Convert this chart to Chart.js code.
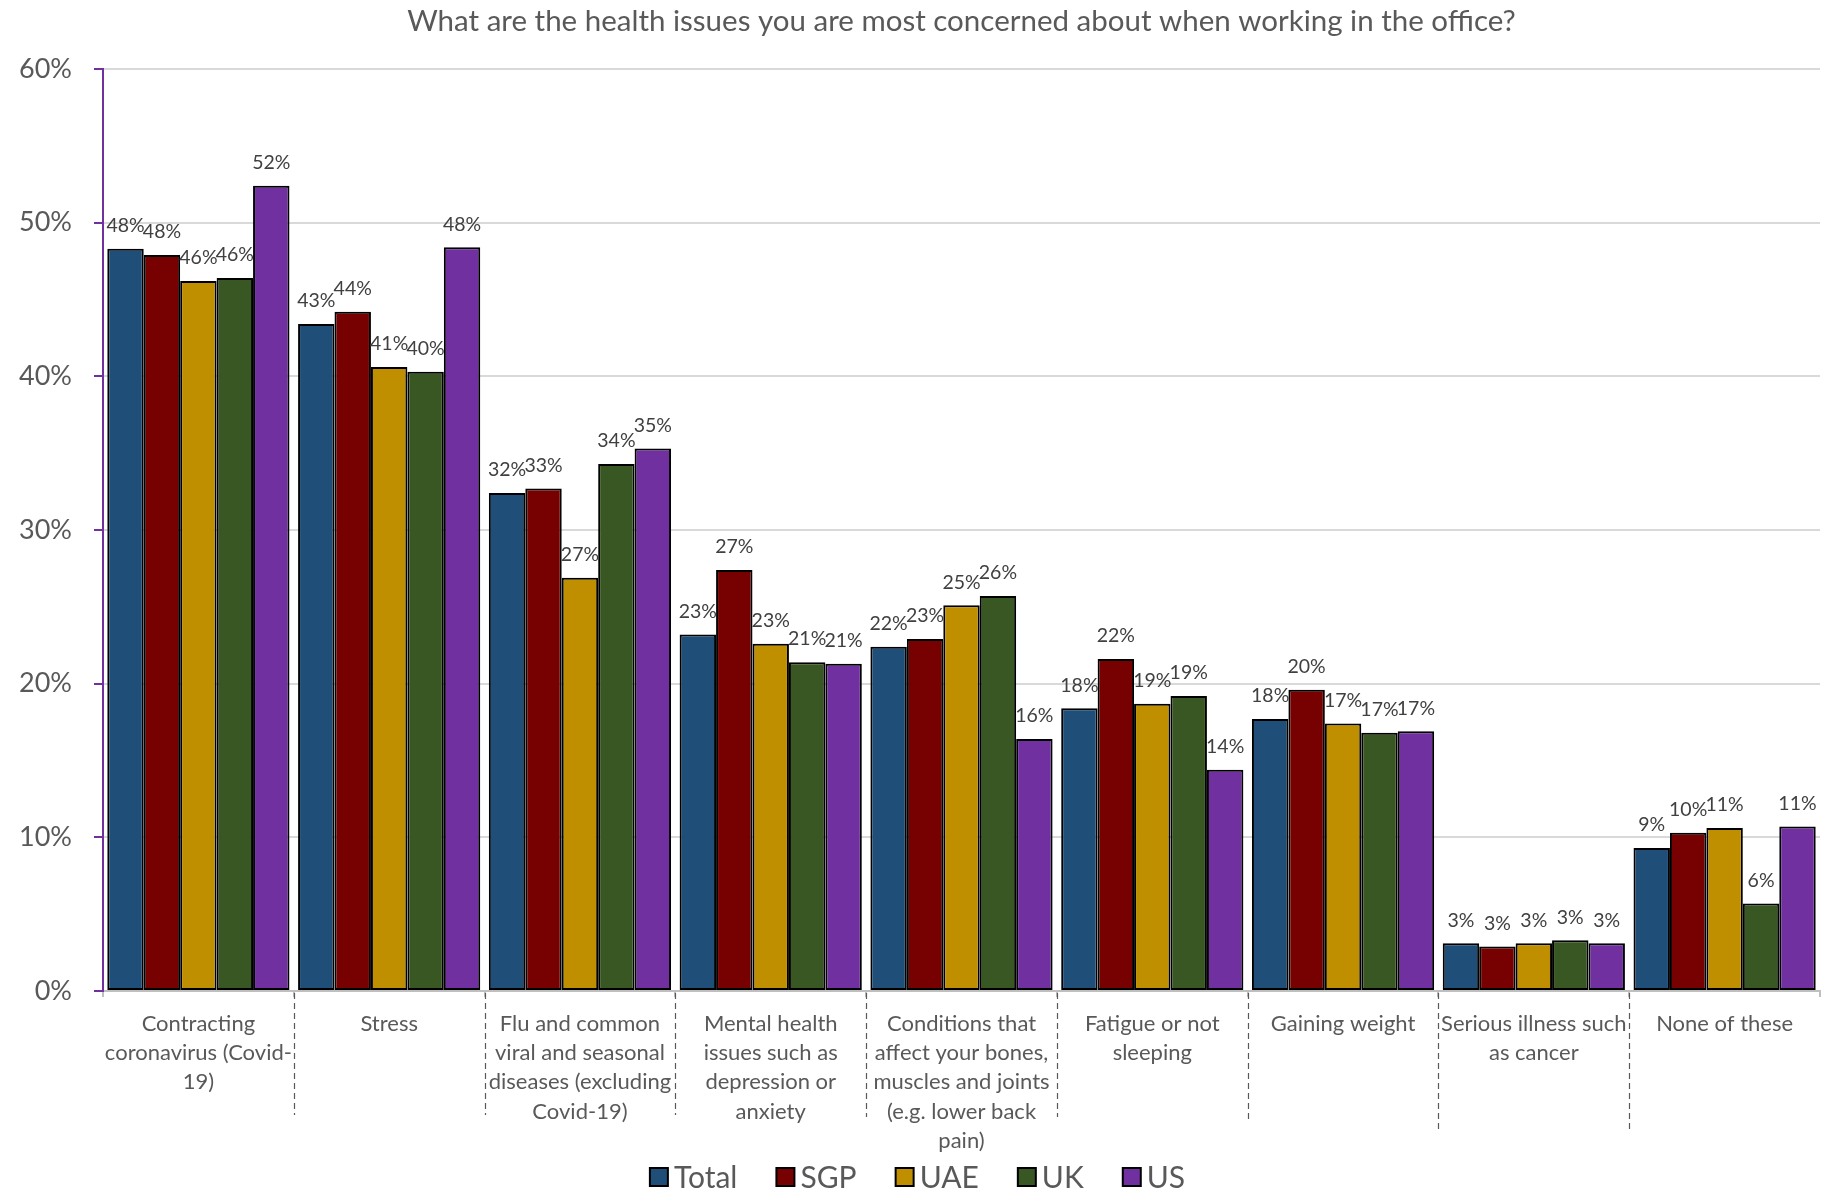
<!DOCTYPE html>
<html>
<head>
<meta charset="utf-8">
<script src="https://cdn.jsdelivr.net/npm/chart.js@4.4.1/dist/chart.umd.min.js"></script>
<style>
  html, body { margin: 0; padding: 0; background: #fff; }
  #wrap { width: 1835px; height: 1193px; }
</style>
</head>
<body>
<div id="wrap"><canvas id="chart" width="1835" height="1193"></canvas></div>
<script>
const title = 'What are the health issues you are most concerned about when working in the office?';

const categories = [
  ['Contracting', 'coronavirus (Covid-', '19)'],
  ['Stress'],
  ['Flu and common', 'viral and seasonal', 'diseases (excluding', 'Covid-19)'],
  ['Mental health', 'issues such as', 'depression or', 'anxiety'],
  ['Conditions that', 'affect your bones,', 'muscles and joints', '(e.g. lower back', 'pain)'],
  ['Fatigue or not', 'sleeping'],
  ['Gaining weight'],
  ['Serious illness such', 'as cancer'],
  ['None of these']
];

const seriesNames = ['Total', 'SGP', 'UAE', 'UK', 'US'];
const totalValues = [48.3, 43.4, 32.4, 23.2, 22.4, 18.4, 17.7, 3.1, 9.3];
const sgpValues   = [47.9, 44.2, 32.7, 27.4, 22.9, 21.6, 19.6, 2.9, 10.3];
const uaeValues   = [46.2, 40.6, 26.9, 22.6, 25.1, 18.7, 17.4, 3.1, 10.6];
const ukValues    = [46.4, 40.3, 34.3, 21.4, 25.7, 19.2, 16.8, 3.3, 5.7];
const usValues    = [52.4, 48.4, 35.3, 21.3, 16.4, 14.4, 16.9, 3.1, 10.7];
const yTicks = [0, 10, 20, 30, 40, 50, 60];

const seriesColors = ['#1F4E79', '#770000', '#BF8F00', '#385723', '#7030A0'];
const allValues = [totalValues, sgpValues, uaeValues, ukValues, usValues];

Chart.defaults.font.family = 'Lato';

// value labels above each bar
const barLabels = {
  id: 'barLabels',
  afterDatasetsDraw(chart) {
    const ctx = chart.ctx;
    ctx.save();
    ctx.font = '19.5px Lato';
    ctx.fillStyle = '#404040';
    ctx.textAlign = 'center';
    ctx.textBaseline = 'middle';
    chart.data.datasets.forEach((ds, i) => {
      chart.getDatasetMeta(i).data.forEach((bar, j) => {
        ctx.fillText(Math.round(ds.data[j]) + '%', bar.x, bar.y - 23);
      });
    });
    ctx.restore();
  }
};

// dashed separators between category labels
const dividerLengths = [124, 124, 124, 126, 126, 130, 139, 139];
const dividers = {
  id: 'dividers',
  afterDraw(chart) {
    const x = chart.scales.x;
    const ctx = chart.ctx;
    const top = chart.chartArea.bottom;
    ctx.save();
    ctx.strokeStyle = '#595959';
    ctx.lineWidth = 1.2;
    ctx.setLineDash([6, 4]);
    for (let i = 1; i < categories.length; i++) {
      const px = Math.round((x.getPixelForValue(i - 1) + x.getPixelForValue(i)) / 2) + 0.5;
      ctx.beginPath();
      ctx.moveTo(px, top + 2);
      ctx.lineTo(px, top + dividerLengths[i - 1]);
      ctx.stroke();
    }
    ctx.restore();
  }
};

// legend row at the bottom, Excel style (small gap between box and text)
const bottomLegend = {
  id: 'bottomLegend',
  afterDraw(chart) {
    const ctx = chart.ctx;
    const box = 18, gap = 6, spacing = 39, cy = 1177;
    ctx.save();
    ctx.font = '30px Lato';
    ctx.textBaseline = 'middle';
    ctx.textAlign = 'left';
    const items = chart.data.datasets.map(ds => ({
      text: ds.label,
      color: ds.backgroundColor,
      w: ctx.measureText(ds.label).width
    }));
    const total = items.reduce((s, it) => s + box + gap + it.w, 0) + spacing * (items.length - 1);
    let x = chart.width / 2 - total / 2;
    items.forEach(it => {
      ctx.fillStyle = it.color;
      ctx.fillRect(x, cy - box / 2, box, box);
      ctx.strokeStyle = '#000';
      ctx.lineWidth = 2;
      ctx.strokeRect(x, cy - box / 2, box, box);
      ctx.fillStyle = '#595959';
      ctx.fillText(it.text, x + box + gap, cy + 1);
      x += box + gap + it.w + spacing;
    });
    ctx.restore();
  }
};

new Chart(document.getElementById('chart'), {
  type: 'bar',
  data: {
    labels: categories,
    datasets: seriesNames.map((name, i) => ({
      label: name,
      data: allValues[i],
      backgroundColor: seriesColors[i],
      borderColor: '#000000',
      borderWidth: 2,
      borderSkipped: false,
      categoryPercentage: 0.955,
      barPercentage: 1.0
    }))
  },
  options: {
    responsive: false,
    animation: false,
    layout: { padding: { left: 0, right: 15, top: 0, bottom: 0 } },
    plugins: {
      title: {
        display: true,
        text: title,
        color: '#595959',
        fullSize: false,
        font: { size: 29.5, weight: 'normal' },
        padding: { top: 4, bottom: 29.6 }
      },
      legend: { display: false },
      tooltip: { enabled: false }
    },
    scales: {
      x: {
        grid: {
          offset: true,
          drawOnChartArea: false,
          tickLength: 6,
          color: '#BFBFBF',
          lineWidth: 2
        },
        border: { color: '#BFBFBF', width: 2 },
        ticks: {
          color: '#595959',
          font: { size: 22, lineHeight: 1.33 },
          maxRotation: 0,
          minRotation: 0,
          autoSkip: false,
          padding: 12
        },
        afterFit(scale) { scale.height = 202; }
      },
      y: {
        min: yTicks[0],
        max: yTicks[yTicks.length - 1],
        afterBuildTicks(scale) { scale.ticks = yTicks.map(v => ({ value: v })); },
        ticks: {
          color: '#595959',
          font: { size: 27 },
          padding: 22,
          callback: v => v + '%'
        },
        grid: {
          color: '#D9D9D9',
          lineWidth: 2,
          tickLength: 9,
          tickColor: '#7030A0',
          tickWidth: 2
        },
        border: { color: '#7030A0', width: 2 },
        afterFit(scale) { scale.width = 103; }
      }
    }
  },
  plugins: [barLabels, dividers, bottomLegend]
});
</script>
</body>
</html>
